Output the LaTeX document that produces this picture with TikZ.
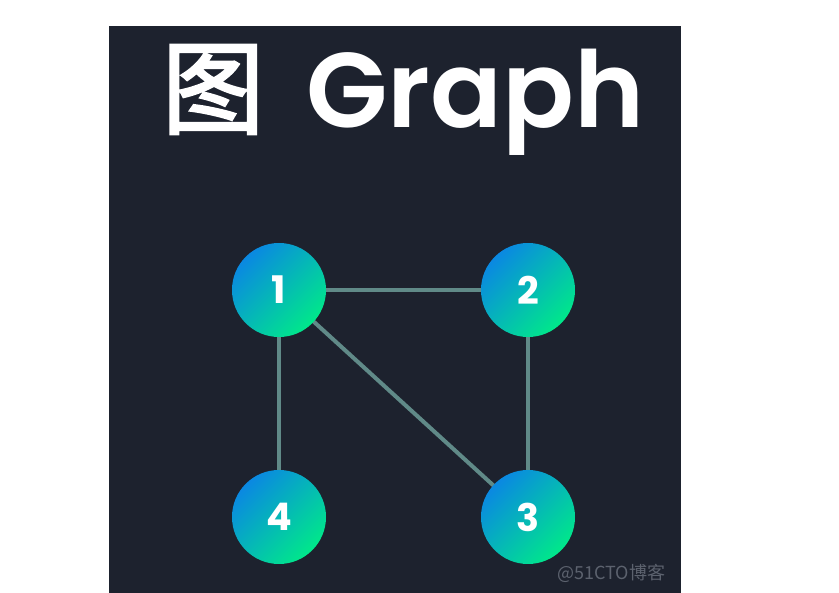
\documentclass[tikz,border=0pt]{standalone}
\usepackage{fontspec}
\setmainfont{Poppins}
\newfontfamily\titlefont{Poppins SemiBold}
\newfontfamily\cjk{Noto Sans CJK SC}
\newfontfamily\cjktitle{Noto Sans CJK SC}[FakeBold=2.5]
\usetikzlibrary{positioning}

\definecolor{panel}{RGB}{29,34,46}
\definecolor{edgecol}{RGB}{96,138,136}
\definecolor{nodeblue}{RGB}{10,136,226}
\definecolor{nodegreen}{RGB}{0,232,138}
\definecolor{markgray}{RGB}{92,98,110}

\begin{document}
\begin{tikzpicture}[x=1pt, y=-1pt, every node/.style={inner sep=0pt},
	vertex/.style={circle, minimum size=94pt, top color=nodeblue, bottom color=nodegreen, shading angle=45, text=white, font=\fontsize{38}{38}\selectfont\bfseries},
	link/.style={edgecol, line width=4pt}]
	\useasboundingbox (0,0) rectangle (839,593);
	\fill[white] (0,0) rectangle (839,593);
	\fill[panel] (109,26) rectangle (681,593);
	% title
	\node[text=white, font=\cjktitle\fontsize{102}{102}\selectfont, anchor=base west] (tu) at (162,126) {图};
	\node[text=white, font=\titlefont\fontsize{106}{106}\selectfont, anchor=base west] (graph) at (306,128) {Graph};
	% edges first, nodes on top
	\coordinate (p1) at (279,290);
	\coordinate (p2) at (528,290);
	\coordinate (p3) at (528,517);
	\coordinate (p4) at (279,517);
	\draw[link] (p1) -- (p2);
	\draw[link] (p2) -- (p3);
	\draw[link] (p1) -- (p3);
	\draw[link] (p1) -- (p4);
	\node[vertex] (v1) at (p1) {1};
	\node[vertex] (v2) at (p2) {2};
	\node[vertex] (v3) at (p3) {3};
	\node[vertex] (v4) at (p4) {4};
	% watermark
	\node[text=markgray, font=\cjk\fontsize{18}{18}\selectfont, anchor=base west] (mark) at (557,580) {@51CTO博客};
\end{tikzpicture}
\end{document}
